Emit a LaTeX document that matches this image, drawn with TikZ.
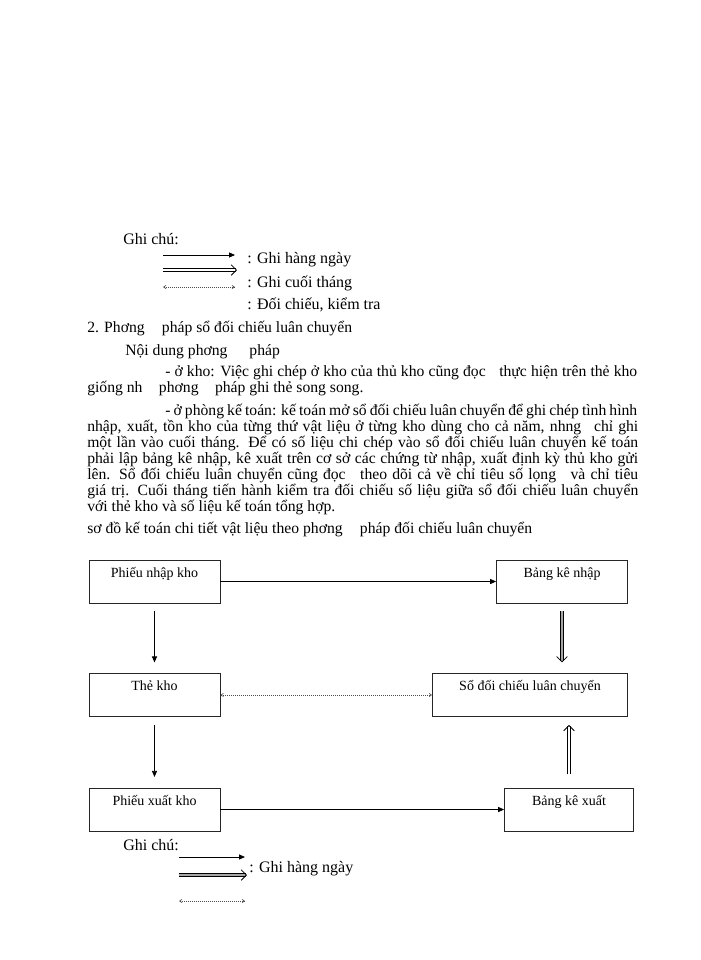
\documentclass[tikz,border=0pt]{standalone}
\usepackage{fontspec}
\setmainfont{Liberation Serif}
\usetikzlibrary{arrows.meta,positioning}
\newcommand\justifie[2][413.25pt]{\makebox[#1][s]{#2}}

\begin{document}
\begin{tikzpicture}[x=0.75pt,y=-0.75pt,
  texte/.style={anchor=base west,inner sep=0pt,font=\fontsize{11.75}{14}\selectfont},
  legende/.style={anchor=base west,inner sep=0pt,font=\fontsize{12}{14}\selectfont},
  boite/.style={draw=black!85,line width=0.6pt,inner sep=0pt,minimum width=98.25pt,
    text height=12.75pt,text depth=19.5pt,font=\fontsize{10.5}{12}\selectfont},
  fleche/.style={line width=0.6pt,-{Triangle[length=4.5pt,width=3.8pt]}},
  dfleche/.style={double=black!35,double distance=1.6pt,line width=0.6pt,
    -{Straight Barb[length=4pt,width=8pt]}},
  pointille/.style={densely dotted,line width=0.5pt,black!70,
    {Straight Barb[length=1.8pt,width=2.4pt]}-{Straight Barb[length=1.8pt,width=2.4pt]}}]
\useasboundingbox (0,0) rectangle (700,960);

% ghi chu (haut)
\node[legende] (gc1) at (123,244) {Ghi chú:};
\coordinate (a1) at (163,255); \coordinate (b1) at (235,255);
\coordinate (a2) at (163,270); \coordinate (b2) at (237,270);
\coordinate (a3) at (163,287); \coordinate (b3) at (235,287);
\draw[fleche] (a1) -- (b1);
\draw[dfleche,double=white] (a2) -- (b2);
\draw[pointille] (a3) -- (b3);
\node[legende] (l1) at (247,263) {: Ghi hàng ngày};
\node[legende] (l2) at (247,287) {: Ghi cuối tháng};
\node[legende] (l3) at (247,309) {: Đối chiếu, kiểm tra};

% texte
\node[texte] (titre) at (87,332) {2. Phơng\hspace{1.1em}pháp sổ đối chiếu luân chuyển};
\node[texte] (nd) at (125,355) {Nội dung phơng\hspace{1.4em}pháp};
\node[texte] (p1) at (165,376) {\justifie[354pt]{- ở kho: Việc ghi chép ở kho của thủ kho cũng đọc\hspace{0.6em} thực hiện trên thẻ kho}};
\node[texte] (p2) at (87,392) {giống nh\hspace{0.8em} phơng\hspace{0.8em} pháp ghi thẻ song song.};
\node[texte] (p3) at (165,415) {\justifie[354pt]{- ở phòng kế toán: kế toán mở sổ đối chiếu luân chuyển để ghi chép tình hình}};
\node[texte] (p4) at (87,431) {\justifie{nhập, xuất, tồn kho của từng thứ vật liệu ở từng kho dùng cho cả năm, nhng\hspace{0.5em} chỉ ghi}};
\node[texte] (p5) at (87,447) {\justifie{một lần vào cuối tháng. Để có số liệu chi chép vào sổ đối chiếu luân chuyển kế toán}};
\node[texte] (p6) at (87,463) {\justifie{phải lập bảng kê nhập, kê xuất trên cơ sở các chứng từ nhập, xuất định kỳ thủ kho gửi}};
\node[texte] (p7) at (87,479) {\justifie{lên. Sổ đối chiếu luân chuyển cũng đọc\hspace{0.6em} theo dõi cả về chỉ tiêu số lọng\hspace{0.6em} và chỉ tiêu}};
\node[texte] (p8) at (87,495) {\justifie{giá trị. Cuối tháng tiến hành kiểm tra đối chiếu số liệu giữa sổ đối chiếu luân chuyển}};
\node[texte] (p9) at (87,511) {với thẻ kho và số liệu kế toán tổng hợp.};
\node[texte] (sd) at (87,533) {sơ đồ kế toán chi tiết vật liệu theo phơng\hspace{1.1em}pháp đối chiếu luân chuyển};

% so do
\node[boite] (pnk) at (154.5,581.5) {Phiếu nhập kho};
\node[boite] (bkn) at (562,581.5) {Bảng kê nhập};
\node[boite] (tk) at (154.5,695) {Thẻ kho};
\node[boite,minimum width=146.25pt] (sdc) at (530,695) {Sổ đối chiếu luân chuyển};
\node[boite] (pxk) at (154.5,809.5) {Phiếu xuất kho};
\node[boite,minimum width=96.75pt] (bkx) at (569,809.5) {Bảng kê xuất};

\draw[fleche] (pnk) -- (bkn);
\draw[fleche,shorten <=6pt,shorten >=8pt] (pnk) -- (tk);
\draw[dfleche,shorten <=6pt,shorten >=8pt] (bkn) -- (bkn |- sdc.north);
\draw[pointille] (tk) -- (sdc);
\draw[fleche,shorten <=6pt,shorten >=8pt] (tk) -- (pxk);
\draw[dfleche,double=white,shorten <=10pt,shorten >=6pt] (bkx) -- (bkx |- sdc.south);
\draw[fleche] (pxk) -- (bkx);

% ghi chu (bas)
\node[legende] (gc2) at (123,850) {Ghi chú:};
\coordinate (c1) at (179,857); \coordinate (d1) at (245,857);
\coordinate (c2) at (179,875); \coordinate (d2) at (247,875);
\coordinate (c3) at (179,901); \coordinate (d3) at (245,901);
\draw[fleche] (c1) -- (d1);
\draw[dfleche] (c2) -- (d2);
\draw[pointille] (c3) -- (d3);
\node[legende] (l4) at (249,872) {: Ghi hàng ngày};
\end{tikzpicture}
\end{document}
